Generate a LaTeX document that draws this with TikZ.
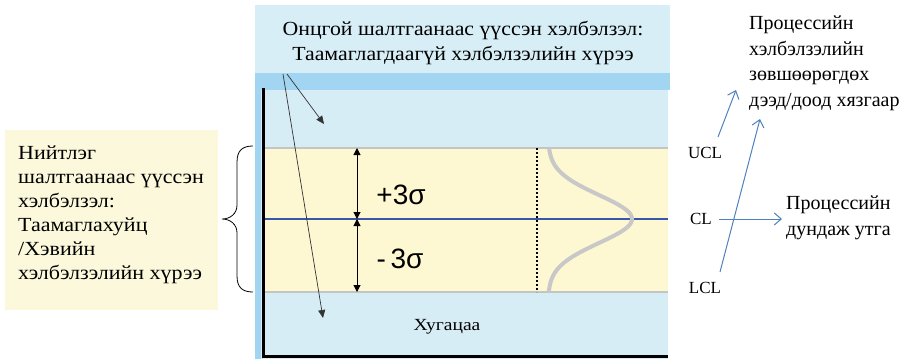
\documentclass[tikz,border=0pt]{standalone}
\usepackage{fontspec}
\setmainfont{Liberation Serif}
\newfontfamily\sansf{Liberation Sans}
\newfontfamily\wserif[FakeStretch=1.09]{Liberation Serif}
\newfontfamily\mserif[FakeStretch=1.1]{Liberation Serif}
\newfontfamily\tserif[FakeStretch=1.15]{Liberation Serif}
\usetikzlibrary{arrows.meta,calc}
\definecolor{titlebg}{HTML}{D7EEF7}
\definecolor{bandblue}{HTML}{A2D5F1}
\definecolor{chartbg}{HTML}{D7EDF6}
\definecolor{yellowband}{HTML}{FDF8D2}
\definecolor{leftbg}{HTML}{FBF8DC}
\definecolor{limgray}{HTML}{C4C4C4}
\definecolor{clblue}{HTML}{3A56A8}
\definecolor{bellgray}{HTML}{C8C8C8}
\definecolor{arrblue}{HTML}{4F81BD}
\tikzset{
  titletxt/.style={font=\wserif\fontsize{20}{25}\selectfont},
  lefttxt/.style={font=\mserif\fontsize{20}{24}\selectfont},
  righttxt/.style={font=\fontsize{20}{25.5}\selectfont},
  limtxt/.style={font=\fontsize{17}{22}\selectfont, inner sep=0pt},
  sigtxt/.style={font=\sansf\fontsize{28}{32}\selectfont, inner sep=0pt},
  blkarrow/.style={-{Triangle[length=8pt,width=7pt]}, line width=0.7pt, black!80},
  dblarrow/.style={{Triangle[length=7pt,width=7pt]}-{Triangle[length=7pt,width=7pt]}, line width=1pt},
  bluearrow/.style={-{Straight Barb[length=7pt,width=12pt]}, line width=1pt, arrblue},
}
\begin{document}
\begin{tikzpicture}[x=1pt,y=-1pt]
\useasboundingbox (0,0) rectangle (905,359);
% title box and chart background
\fill[titlebg] (255,5) rectangle (670,73);
\fill[bandblue] (255,73) rectangle (670,90);
\fill[chartbg] (255,90) rectangle (668,359);
\fill[bandblue] (255,90) rectangle (261,359);
\fill[yellowband] (263,148) rectangle (668,292);
\node[titletxt, align=center, inner sep=0pt] (title) at (463,43)
  {Онцгой шалтгаанаас үүссэн хэлбэлзэл:\\Таамаглагдаагүй хэлбэлзэлийн хүрээ};
% limit lines
\coordinate (uclL) at (263,148); \coordinate (uclR) at (668,148);
\coordinate (clL) at (263,219);  \coordinate (clR) at (668,219);
\coordinate (lclL) at (263,292); \coordinate (lclR) at (668,292);
\draw[limgray, line width=1.5pt] (uclL) -- (uclR);
\draw[limgray, line width=1.5pt] (lclL) -- (lclR);
\draw[clblue, line width=1.5pt] (clL) -- (clR);
% axes
\coordinate (axTop) at (263,88); \coordinate (axCorner) at (263,356); \coordinate (axEnd) at (668,356);
\draw[line width=3pt] (axTop) -- (axCorner) -- (axEnd);
% dotted line and bell curve
\coordinate (dotTop) at (537,148); \coordinate (dotBot) at (537,292);
\draw[dotted, line width=2pt] (dotTop) -- (dotBot);
\draw[bellgray, line width=4pt] plot[variable=\t, domain=148:292, samples=90, smooth]
  ({548+84*exp(-((\t-219)/24)^2/2)}, \t);
% sigma arrows
\coordinate (sTop) at (357,148); \coordinate (sMid) at (357,219); \coordinate (sBot) at (357,292);
\draw[dblarrow] (sTop) -- (sMid);
\draw[dblarrow] (sMid) -- (sBot);
\node[sigtxt] (plus) at (401,195) {+3σ};
\node[sigtxt] (minus) at (400,259) {-\,3σ};
% time label
\node[font=\tserif\fontsize{17}{20}\selectfont, inner sep=0pt] (time) at (447,327) {Хугацаа};
% arrows from title
\coordinate (src1) at (283,74); \coordinate (src2) at (287,74);
\coordinate (tgt1) at (324,124); \coordinate (tgt2) at (323,318);
\draw[blkarrow] (src2) -- (tgt1);
\draw[blkarrow] (src1) -- (tgt2);
% left box
\fill[leftbg] (5,130) rectangle (218,310);
\node[lefttxt, align=left, anchor=north west, inner sep=0pt] (left) at (18,146)
  {Нийтлэг\\шалтгаанаас үүссэн\\хэлбэлзэл:\\Таамаглахуйц\\/Хэвийн\\хэлбэлзэлийн хүрээ};
% brace
\draw[line width=0.8pt] (253,146) .. controls (243,146) and (237,150) .. (237,162)
  -- (237,205) .. controls (237,214) and (230,219) .. (222,219)
  .. controls (230,219) and (237,224) .. (237,233)
  -- (237,276) .. controls (237,288) and (243,292) .. (253,292);
% right labels
\node[limtxt] (ucl) at (705,153) {UCL};
\node[limtxt] (cl) at (701,219) {CL};
\node[limtxt] (lcl) at (705,288) {LCL};
\node[righttxt, align=left, anchor=north west, inner sep=0pt] (limits) at (749,16)
  {Процессийн\\хэлбэлзэлийн\\зөвшөөрөгдөх\\дээд/доод хязгаар};
\node[righttxt, align=left, anchor=west, inner sep=0pt] (mean) at (786,218)
  {Процессийн\\дундаж утга};
\coordinate (a1s) at (718,137); \coordinate (a1t) at (736,90);
\coordinate (a2s) at (720,272); \coordinate (a2t) at (760,119);
\coordinate (a3s) at (719,219); \coordinate (a3t) at (782,219);
\draw[bluearrow] (a1s) -- (a1t);
\draw[bluearrow] (a2s) -- (a2t);
\draw[bluearrow] (a3s) -- (a3t);
\end{tikzpicture}
\end{document}
